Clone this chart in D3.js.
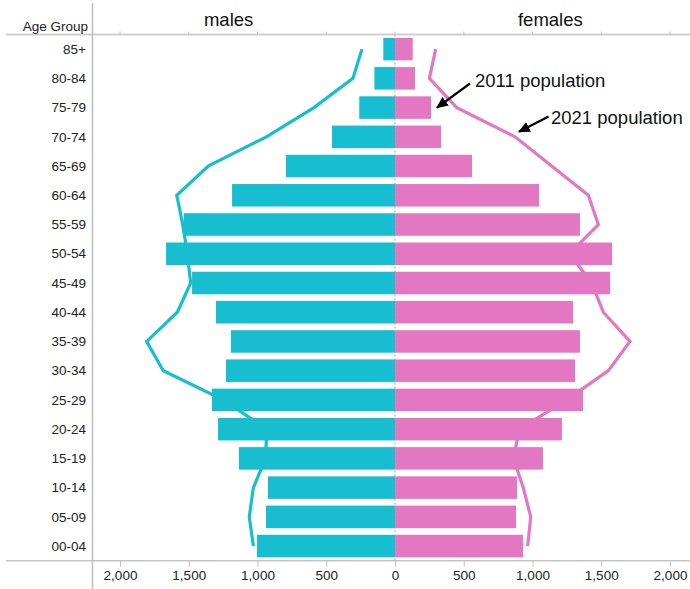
<!DOCTYPE html>
<html>
<head>
<meta charset="utf-8">
<script src="https://cdn.jsdelivr.net/npm/d3@7"></script>
<style>
  html, body { margin: 0; padding: 0; background: #fff; }
  svg { display: block; font-family: "Liberation Sans", Arial, sans-serif; }
</style>
</head>
<body>
<svg id="chart" width="690" height="589"></svg>
<script>
// ---- data ----
const ageGroups = ["85+","80-84","75-79","70-74","65-69","60-64","55-59","50-54","45-49",
                   "40-44","35-39","30-34","25-29","20-24","15-19","10-14","05-09","00-04"];
const males2011   = [85,150,260,458,793,1185,1537,1665,1476,1302,1193,1229,1331,1287,1135,924,938,1004];
const females2011 = [129,145,262,335,560,1047,1345,1578,1564,1295,1345,1309,1367,1214,1076,887,880,931];
const males2021   = [240,306,589,935,1358,1587,1544,1510,1486,1583,1806,1685,1249,933,941,1030,1060,1030];
const females2021 = [296,250,449,873,1139,1406,1479,1270,1430,1515,1709,1552,1249,905,861,933,987,965];
const xTicks = [-2000,-1500,-1000,-500,0,500,1000,1500,2000];
const sideLabels = ["males","females"];
const annotations = ["2011 population","2021 population"];

const colMale = "#17BECF", colFemale = "#E377C2";

const svg = d3.select("#chart");
const W = 690, H = 589;
const plotLeft = 92.5, plotTop = 34.5, plotBottom = 560.7;

const x = d3.scaleLinear().domain([-2000, 2000]).range([120, 670]);
const y = d3.scaleBand().domain(ageGroups).range([plotTop, plotBottom])
  .paddingInner(0.23).paddingOuter(0.115);
const yc = d => y(d) + y.bandwidth() / 2;

// frame lines
svg.append("line").attr("x1", 6).attr("x2", W).attr("y1", plotTop).attr("y2", plotTop)
  .attr("stroke", "#cfcfcf").attr("stroke-width", 2);
svg.append("line").attr("x1", 6).attr("x2", W).attr("y1", plotBottom).attr("y2", plotBottom)
  .attr("stroke", "#c4c4c4").attr("stroke-width", 1.5);
svg.append("line").attr("x1", plotLeft).attr("x2", plotLeft).attr("y1", 3).attr("y2", H)
  .attr("stroke", "#bdbdbd").attr("stroke-width", 1.5);

// top small ticks
svg.append("g").selectAll("line").data(xTicks).join("line")
  .attr("x1", d => x(d)).attr("x2", d => x(d))
  .attr("y1", plotTop - 3).attr("y2", plotTop)
  .attr("stroke", "#c4c4c4").attr("stroke-width", 1);

// bottom axis
const fmt = d3.format(",");
const xAxis = d3.axisBottom(x).tickValues(xTicks).tickSize(6).tickFormat(d => fmt(Math.abs(d)));
const gx = svg.append("g").attr("transform", `translate(0,${plotBottom})`).call(xAxis);
gx.select(".domain").remove();
gx.selectAll(".tick line").attr("stroke", "#c4c4c4");
gx.selectAll(".tick text").attr("font-size", "13.5px").attr("fill", "#222")
  .attr("font-family", "Liberation Sans, Arial, sans-serif").attr("dy", "0.95em").attr("y", 6);

// zero line dotted
svg.append("line").attr("x1", x(0)).attr("x2", x(0)).attr("y1", plotTop).attr("y2", plotBottom)
  .attr("stroke", "#b0b0b0").attr("stroke-width", 1).attr("stroke-dasharray", "2,2");

// 2021 lines (beneath bars)
const lineM = d3.line().x((d, i) => x(-d)).y((d, i) => yc(ageGroups[i]));
const lineF = d3.line().x((d, i) => x(d)).y((d, i) => yc(ageGroups[i]));
svg.append("path").datum(males2021).attr("d", lineM)
  .attr("fill", "none").attr("stroke", colMale).attr("stroke-width", 3.2).attr("stroke-linejoin", "miter");
svg.append("path").datum(females2021).attr("d", lineF)
  .attr("fill", "none").attr("stroke", colFemale).attr("stroke-width", 3.2).attr("stroke-linejoin", "miter");

// 2011 bars
svg.append("g").selectAll("rect").data(males2011).join("rect")
  .attr("x", d => x(-d)).attr("width", d => x(0) - x(-d))
  .attr("y", (d, i) => y(ageGroups[i])).attr("height", y.bandwidth())
  .attr("fill", colMale);
svg.append("g").selectAll("rect").data(females2011).join("rect")
  .attr("x", x(0)).attr("width", d => x(d) - x(0))
  .attr("y", (d, i) => y(ageGroups[i])).attr("height", y.bandwidth())
  .attr("fill", colFemale);

svg.append("line").attr("x1", x(0)).attr("x2", x(0)).attr("y1", plotTop).attr("y2", plotBottom)
  .attr("stroke", "#b8b8b8").attr("stroke-width", 1).attr("stroke-dasharray", "2,2")
  .attr("opacity", 0.35);

// category labels
svg.append("g").selectAll("text").data(ageGroups).join("text")
  .attr("x", 86).attr("y", d => yc(d)).attr("dy", "0.35em")
  .attr("text-anchor", "end").attr("font-size", "13.5px").attr("fill", "#222")
  .text(d => d);
svg.append("text").attr("x", 88).attr("y", 26).attr("dy", "0.35em")
  .attr("text-anchor", "end").attr("font-size", "13.5px").attr("fill", "#222")
  .text("Age Group");

// side headers
svg.append("text").attr("x", x(-1210)).attr("y", 20).attr("dy", "0.35em")
  .attr("text-anchor", "middle").attr("font-size", "18.5px").attr("fill", "#111")
  .text(sideLabels[0]);
svg.append("text").attr("x", x(1130)).attr("y", 20).attr("dy", "0.35em")
  .attr("text-anchor", "middle").attr("font-size", "18.5px").attr("fill", "#111")
  .text(sideLabels[1]);

// arrows + annotations
const defs = svg.append("defs");
defs.append("marker").attr("id", "ah").attr("viewBox", "0 0 10 10")
  .attr("refX", 9).attr("refY", 5).attr("markerWidth", 5.4).attr("markerHeight", 5.4)
  .attr("orient", "auto").attr("markerUnits", "strokeWidth")
  .append("path").attr("d", "M0,0.5 L10,5 L0,9.5 Z").attr("fill", "#000");

// arrow 1 -> end of 75-79 female 2011 bar
const a1tip = [x(females2011[2]) + 6, yc(ageGroups[2])];
svg.append("line").attr("x1", 470).attr("y1", 83.5).attr("x2", a1tip[0]).attr("y2", a1tip[1])
  .attr("stroke", "#000").attr("stroke-width", 2.2).attr("marker-end", "url(#ah)");
svg.append("text").attr("x", 475).attr("y", 81).attr("dy", "0.35em")
  .attr("font-size", "18.5px").attr("fill", "#111").text(annotations[0]);

// arrow 2 -> 2021 female line at 70-74
const a2tip = [x(females2021[3]) + 4, yc(ageGroups[3]) - 5];
svg.append("line").attr("x1", 548.5).attr("y1", 116.5).attr("x2", a2tip[0]).attr("y2", a2tip[1])
  .attr("stroke", "#000").attr("stroke-width", 2.2).attr("marker-end", "url(#ah)");
svg.append("text").attr("x", 551).attr("y", 117.5).attr("dy", "0.35em")
  .attr("font-size", "18.5px").attr("fill", "#111").text(annotations[1]);
</script>
</body>
</html>
